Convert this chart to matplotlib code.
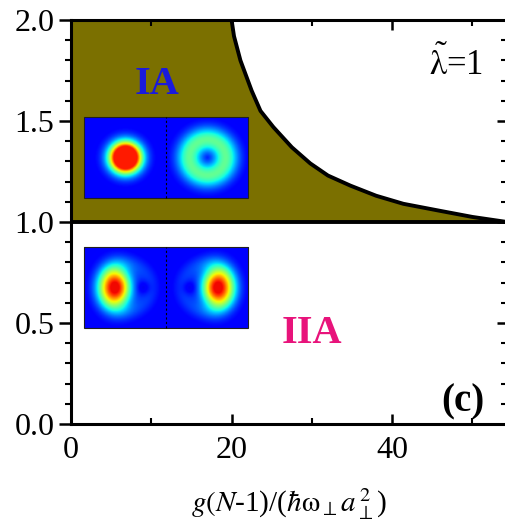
import numpy as np
import matplotlib
matplotlib.use("Agg")
import matplotlib.pyplot as plt
from matplotlib.patches import Rectangle

plt.rcParams['font.family'] = ['Liberation Serif', 'DejaVu Serif']
plt.rcParams['mathtext.fontset'] = 'stix'

# phase boundary between region IA and IIA (lambda~ = 1)
bound_x = [20.0, 20.3, 21.1, 22.5, 23.6, 25.2, 27.5, 29.8, 32.0, 34.8, 38.0, 41.4, 46.0, 50.0, 54.3]
bound_y = [2.00, 1.92, 1.80, 1.65, 1.55, 1.47, 1.37, 1.29, 1.23, 1.18, 1.13, 1.09, 1.055, 1.025, 1.00]

xticks = [0, 20, 40]
yticks = [0.0, 0.5, 1.0, 1.5, 2.0]
ytick_labels = ['0.0', '0.5', '1.0', '1.5', '2.0']
xlim = (0, 54.3)
ylim = (0, 2.0)

fill_color = '#7b7000'

fig = plt.figure(figsize=(5.05, 5.27), dpi=100)
ax = fig.add_axes([71/505, 1-424/527, 436/505, 404/527])

fx = [0.0] + bound_x
fy = [2.0] + bound_y
ax.fill_between(fx, fy, 1.0, color=fill_color, lw=0, zorder=1)
ax.plot(bound_x, bound_y, color='black', lw=2.8, zorder=3, solid_capstyle='round')
ax.axhline(1.0, color='black', lw=2.8, zorder=3)

# density insets (jet colour scale)
n = 140
g = np.linspace(-3.2, 3.2, n)
X, Y = np.meshgrid(g, g)
R2 = X**2 + Y**2
R = np.sqrt(R2)
base = 0.11
blob = np.clip(base + 1.50*np.exp(-R2/1.25), 0, 0.88)
ring = base + 0.36*np.exp(-(R - 1.4)**2/1.0)
core = np.exp(-((X - 0.8)**2/1.3 + Y**2/2.3))
cres_r = (base + 0.85*core + 0.07*np.exp(-(R - 1.9)**2/0.5)
          - 0.07*np.exp(-((X + 1.4)**2 + Y**2)/0.3))
cres_r = np.clip(cres_r, 0, 0.9)
cres_l = cres_r[:, ::-1]

def inset(img, x0, x1, y0, y1):
    ax.imshow(img, extent=(x0, x1, y0, y1), cmap='jet', vmin=0, vmax=1,
              aspect='auto', origin='lower', interpolation='bilinear', zorder=4)

# top inset (IA)
xa, xm, xb = 1.6, 11.85, 22.1
inset(blob, xa, xm, 1.12, 1.52)
inset(ring, xm, xb, 1.12, 1.52)
ax.add_patch(Rectangle((xa, 1.12), xb-xa, 0.40, fill=False, ec='#202020', lw=0.8, zorder=5))
ax.plot([xm, xm], [1.12, 1.52], color='black', lw=0.8, ls=(0, (2, 2)), zorder=5)
# bottom inset (IIA)
inset(cres_l, xa, xm, 0.475, 0.875)
inset(cres_r, xm, xb, 0.475, 0.875)
ax.add_patch(Rectangle((xa, 0.475), xb-xa, 0.40, fill=False, ec='#202020', lw=0.8, zorder=5))
ax.plot([xm, xm], [0.475, 0.875], color='black', lw=0.8, ls=(0, (2, 2)), zorder=5)

ax.set_xlim(*xlim)
ax.set_ylim(*ylim)
ax.set_xticks(xticks)
ax.set_xticks([10, 30, 50], minor=True)
ax.set_yticks(yticks)
ax.set_yticklabels(ytick_labels)
ax.set_yticks(np.arange(0.1, 2.0, 0.1), minor=True)

for s in ax.spines.values():
    s.set_linewidth(2.2)
    s.set_zorder(6)

ax.tick_params(axis='x', which='both', direction='in', top=True, bottom=True,
               labelsize=23, pad=9)
ax.tick_params(axis='x', which='major', length=7, width=1.8)
ax.tick_params(axis='x', which='minor', length=4.5, width=1.5)
ax.tick_params(axis='y', which='both', direction='out', left=True, right=False,
               labelsize=23, pad=3)
ax.tick_params(axis='y', which='major', length=9, width=1.8)
ax.tick_params(axis='y', which='minor', length=4.5, width=1.5)

sec = ax.secondary_yaxis('right')
sec.set_yticks(yticks)
sec.set_yticks(np.arange(0.1, 2.0, 0.1), minor=True)
sec.tick_params(which='both', direction='in', labelright=False)
sec.tick_params(which='major', length=7, width=1.8)
sec.tick_params(which='minor', length=4.5, width=1.5)
sec.spines['right'].set_linewidth(2.2)

ax.set_xlabel(r'$g(N$-1)/($\hbar\mathrm{\omega}_{\perp}a_{\perp}^{\,2}$)', fontsize=21, labelpad=15)

ax.text(10.7, 1.68, 'IA', color='#1a1adc', fontsize=29, fontweight='bold',
        ha='center', va='center', zorder=7)
ax.text(30.0, 0.45, 'IIA', color='#e8137b', fontsize=29, fontweight='bold',
        ha='center', va='center', zorder=7)
ax.text(48.8, 0.11, '(c)', color='black', fontsize=28, fontweight='bold',
        ha='center', va='center', zorder=7)
ax.text(47.9, 1.78, r'$\tilde{\mathrm{\lambda}}$=1', color='black', fontsize=25,
        ha='center', va='center', zorder=7)

fig.savefig('out.png', dpi=100)
